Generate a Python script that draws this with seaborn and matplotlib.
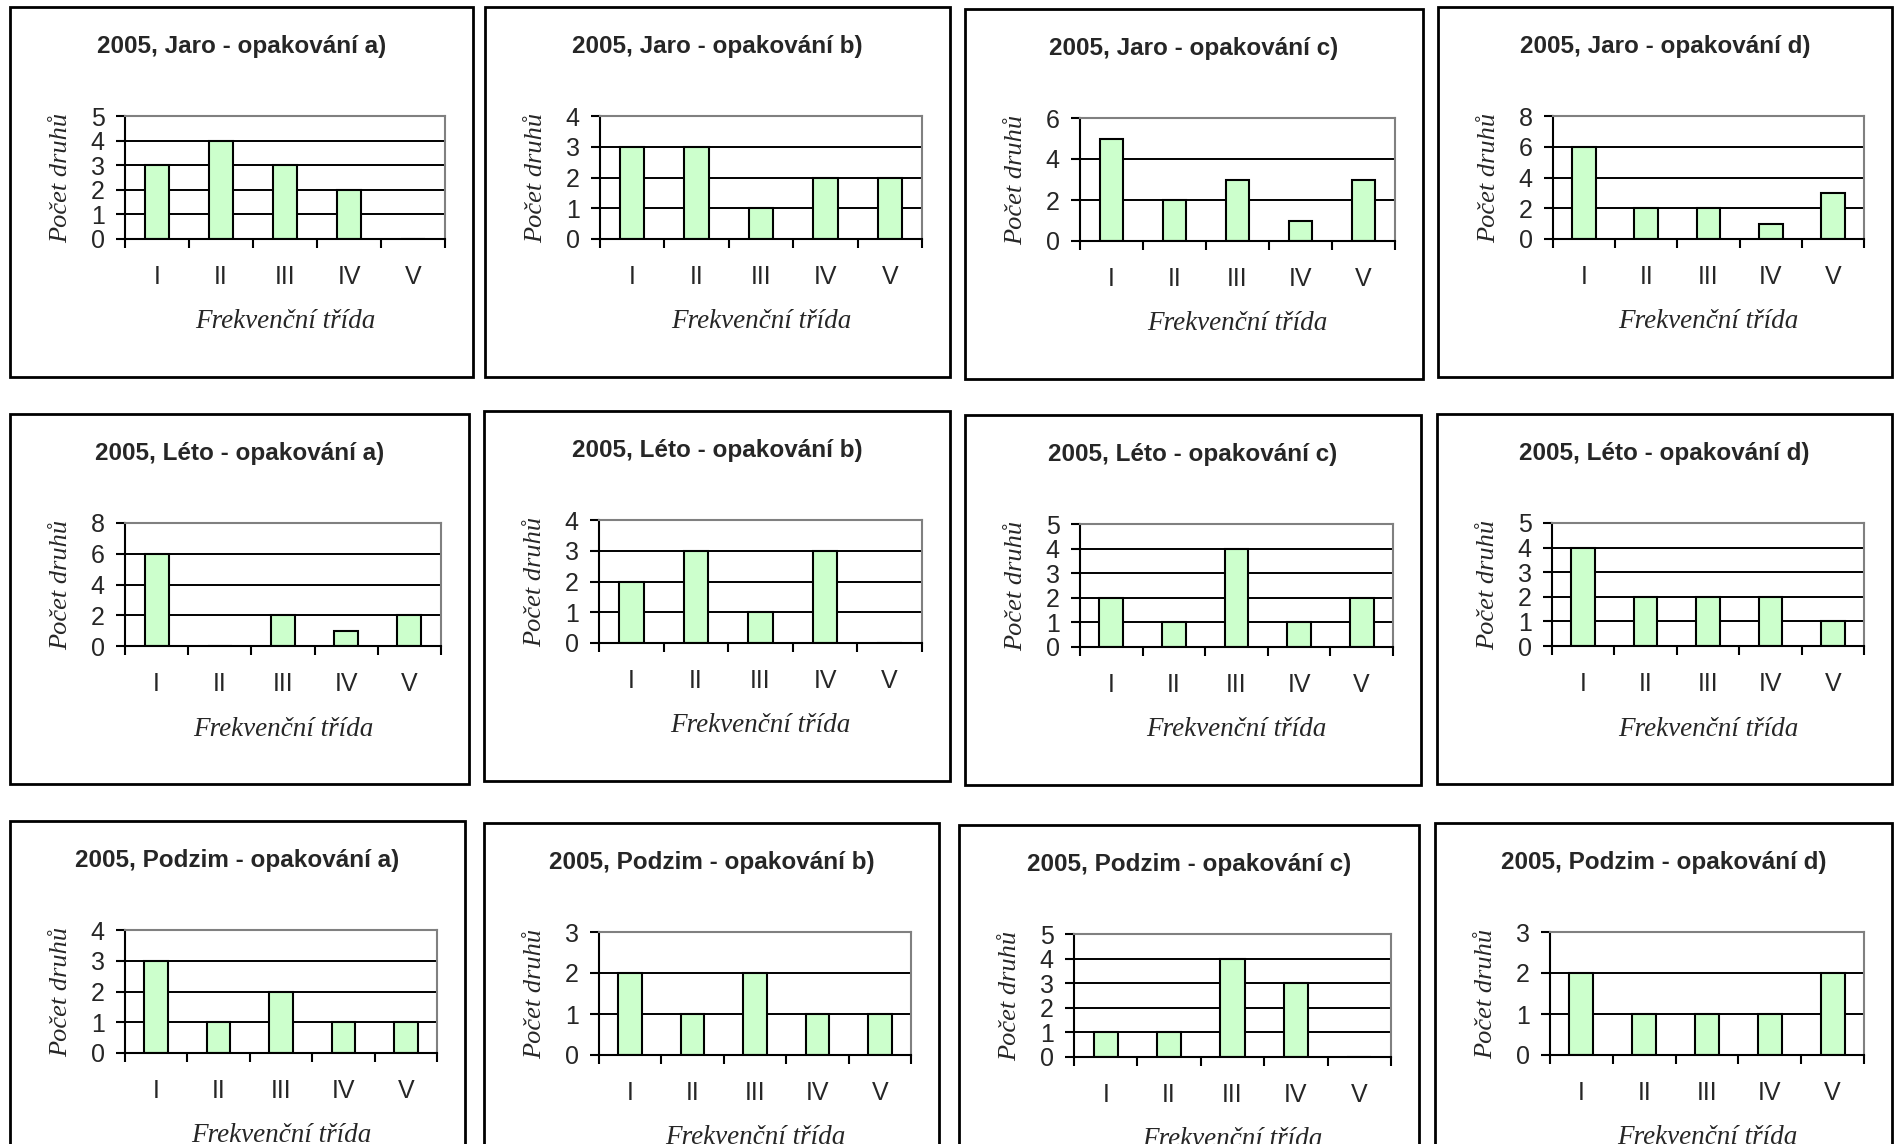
import matplotlib
matplotlib.use("Agg")
import matplotlib.pyplot as plt
from matplotlib.patches import Rectangle
import seaborn as sns

# data
classes = ["I", "II", "III", "IV", "V"]
titles = [
    "2005, Jaro - opakování a)", "2005, Jaro - opakování b)",
    "2005, Jaro - opakování c)", "2005, Jaro - opakování d)",
    "2005, Léto - opakování a)", "2005, Léto - opakování b)",
    "2005, Léto - opakování c)", "2005, Léto - opakování d)",
    "2005, Podzim - opakování a)", "2005, Podzim - opakování b)",
    "2005, Podzim - opakování c)", "2005, Podzim - opakování d)",
]
counts = [
    [3, 4, 3, 2, 0], [3, 3, 1, 2, 2], [5, 2, 3, 1, 3], [6, 2, 2, 1, 3],
    [6, 0, 2, 1, 2], [2, 3, 1, 3, 0], [2, 1, 4, 1, 2], [4, 2, 2, 2, 1],
    [3, 1, 2, 1, 1], [2, 1, 2, 1, 1], [1, 1, 4, 3, 0], [2, 1, 1, 1, 2],
]
y_max = [5, 4, 6, 8, 8, 4, 5, 5, 4, 3, 5, 3]
y_step = [1, 1, 2, 2, 2, 1, 1, 1, 1, 1, 1, 1]
x_label = "Frekvenční třída"
y_label = "Počet druhů"

# chart boxes in pixels: left, top, right (top-left origin)
boxes = [
    (10, 7, 473), (485, 7, 950), (965, 9, 1423), (1438, 7, 1892),
    (10, 414, 469), (484, 411, 950), (965, 415, 1421), (1437, 414, 1892),
    (10, 821, 465), (484, 823, 939), (959, 825, 1419), (1435, 823, 1892),
]
BOX_H = 370
W, H = 1894, 1144

sns.set_style("white")
plt.rcParams["font.family"] = ["Liberation Sans", "DejaVu Sans"]

fig = plt.figure(figsize=(W / 100, H / 100), dpi=100)
fig.patch.set_facecolor("white")

for i, (bl, bt, br) in enumerate(boxes):
    fig.add_artist(Rectangle((bl / W, 1 - (bt + BOX_H) / H), (br - bl) / W, BOX_H / H,
                             transform=fig.transFigure, fill=False,
                             edgecolor="black", linewidth=2))
    fig.text((bl + br) / 2 / W, 1 - (bt + 39) / H, titles[i], ha="center", va="center",
             fontsize=17.5, fontweight="bold")

    pl, pr, pt = bl + 115, br - 28, bt + 109
    ph = 123
    pw = pr - pl
    ax = fig.add_axes([pl / W, 1 - (pt + ph) / H, pw / W, ph / H])
    sns.barplot(x=classes, y=counts[i], color="#CCFFCC", saturation=1,
                edgecolor="black", linewidth=1.5, width=0.38, ax=ax)
    ax.set_xlim(-0.5, 4.5)
    ax.set_ylim(0, y_max[i])
    ax.set_yticks(range(0, y_max[i] + 1, y_step[i]))
    ax.set_xticks(range(5))
    ax.set_xticklabels(classes)
    ax.set_xticks([k - 0.5 for k in range(6)], minor=True)
    ax.tick_params(axis="x", which="major", length=0, pad=19, labelsize=18)
    ax.tick_params(axis="x", which="minor", length=6.5, width=1.5, direction="out",
                   color="black", bottom=True)
    ax.tick_params(axis="y", length=6.5, width=1.5, direction="out", color="black",
                   left=True, pad=8, labelsize=18)

    ax.set_axisbelow(True)
    ax.yaxis.grid(True, color="black", linewidth=1.4)
    ax.xaxis.grid(False)
    gl = ax.yaxis.get_gridlines()
    gl[-1].set_visible(False)

    for side in ("left", "bottom"):
        ax.spines[side].set_color("black")
        ax.spines[side].set_linewidth(1.5)
    for side in ("top", "right"):
        ax.spines[side].set_visible(True)
        ax.spines[side].set_color("#808080")
        ax.spines[side].set_linewidth(1.5)

    ax.set_xlabel(x_label, fontsize=19.5, fontstyle="italic",
                  family=["Liberation Serif", "DejaVu Serif"])
    ax.set_ylabel(y_label, fontsize=19, fontstyle="italic",
                  family=["Liberation Serif", "DejaVu Serif"])
    ax.xaxis.label.set_va("center")
    ax.yaxis.label.set_va("center")
    ax.xaxis.set_label_coords(0.5, -83 / ph)
    ax.yaxis.set_label_coords(-64 / pw, 0.5)

fig.savefig("out.png", dpi=100, facecolor="white")
